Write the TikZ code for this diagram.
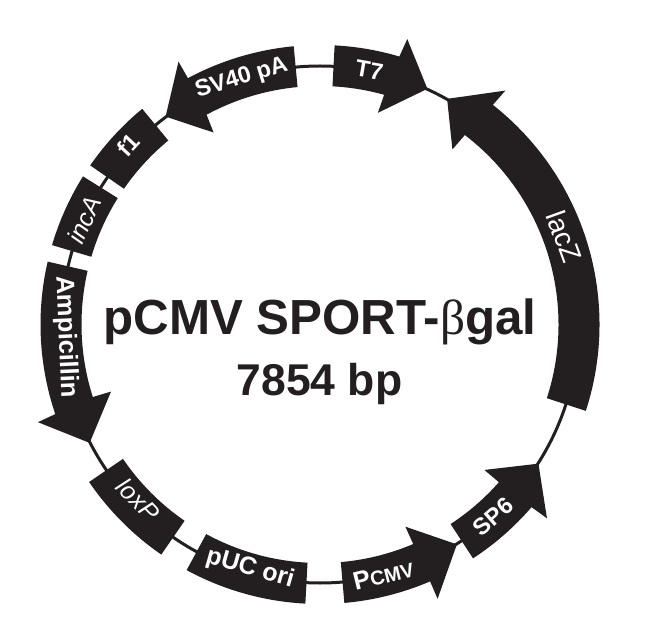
\documentclass[tikz,border=0pt]{standalone}
\usepackage{fontspec}
\setmainfont{Liberation Sans}
\newfontfamily\betafont{Liberation Serif}
\definecolor{ink}{HTML}{231F20}
\newcommand{\Ro}{279.5}
\newcommand{\Ri}{238.5}
\newcommand{\Rbo}{298.5}
\newcommand{\Rbi}{219.5}
\newcommand{\Rt}{259}
% rectangular band: angles a to b
\newcommand{\boxband}[2]{%
  \fill[band] (#1:\Ro) arc[start angle=#1,end angle=#2,radius=\Ro pt]
    -- (#2:\Ri) arc[start angle=#2,end angle=#1,radius=\Ri pt] -- cycle;}
% arrow band: tail, neck outer, neck inner, tip, barb outer, barb inner
\newcommand{\arrband}[6]{%
  \fill[band] (#1:\Ro) arc[start angle=#1,end angle=#2,radius=\Ro pt]
    -- (#5:\Rbo) -- (#4:\Rt) -- (#6:\Rbi) -- (#3:\Ri)
    arc[start angle=#3,end angle=#1,radius=\Ri pt] -- cycle;}
\tikzset{
  band/.style={fill=ink},
  ringline/.style={draw=ink,line width=3pt},
  lab/.style={text=white,inner sep=0pt,font=\fontsize{23.5}{23.5}\selectfont\bfseries},
  lablight/.style={text=white,inner sep=0pt,font=\fontsize{25}{25}\selectfont\itshape},
  title/.style={text=ink,inner sep=0pt,anchor=base,font=\bfseries}
}
\begin{document}
\begin{tikzpicture}[x=1pt,y=1pt]
\useasboundingbox (0,0) rectangle (651,-631);
\fill[white] (0,0) rectangle (651,-631);
\begin{scope}[shift={(320,-324.5)}]
\draw[ringline] (0,0) circle[radius=258.5pt];
\arrband{87.0}{73.5}{74.4}{65.5}{73.0}{74.7}    % T7
\arrband{-18.0}{51.8}{52.6}{60.6}{51.6}{52.9}   % lacZ
\arrband{-56.8}{-40.8}{-41.4}{-32.5}{-40.5}{-41.5} % SP6
\arrband{-85.0}{-66.8}{-67.0}{-58.1}{-66.8}{-67.1} % Pcmv
\boxband{-93.0}{-118.5}    % pUC ori
\boxband{214.3}{235.4}     % loxP
\arrband{167.0}{198.7}{197.7}{207.2}{199.1}{197.8} % Ampicillin
\boxband{148.0}{163.5}     % incA
\boxband{129.5}{145.3}     % f1
\arrband{95.4}{118.2}{118.4}{126.6}{118.3}{119.0}  % SV40 pA
\end{scope}
\node[lab,rotate=17] (sv) at (241.7,-78.5) {SV40 pA};
\node[lab,rotate=-10] (t7) at (369.3,-70) {T7};
\node[lab,font=\fontsize{28}{28}\selectfont,rotate=-70] (lacz) at (564.3,-236.7) {lacZ};
\node[lab,rotate=47] (f1) at (128.3,-145) {f1};
\node[lablight,rotate=66] (inca) at (84.3,-220) {incA};
\node[lab,font=\fontsize{25.5}{25.5}\selectfont\bfseries,rotate=-87.5] (amp) at (65.5,-337) {Ampicillin};
\node[lablight,rotate=-46] (loxp) at (138.3,-500) {loxP};
\node[lab,font=\fontsize{25}{25}\selectfont\bfseries,rotate=-16] (puc) at (250,-568.3) {pUC ori};
\node[lab,rotate=14] (pcmv) at (383.3,-575) {\fontsize{25.5}{25.5}\selectfont P\fontsize{20}{20}\selectfont CMV};
\node[lab,rotate=41] (sp6) at (493.3,-516.7) {SP6};
\node[title,font=\fontsize{49.3}{49.3}\selectfont\bfseries] (name) at (320,-334.3) {pCMV SPORT-{\betafont\mdseries β}gal};
\node[title,font=\fontsize{44.5}{44.5}\selectfont\bfseries] (size) at (319.5,-395) {7854 bp};
\end{tikzpicture}
\end{document}
